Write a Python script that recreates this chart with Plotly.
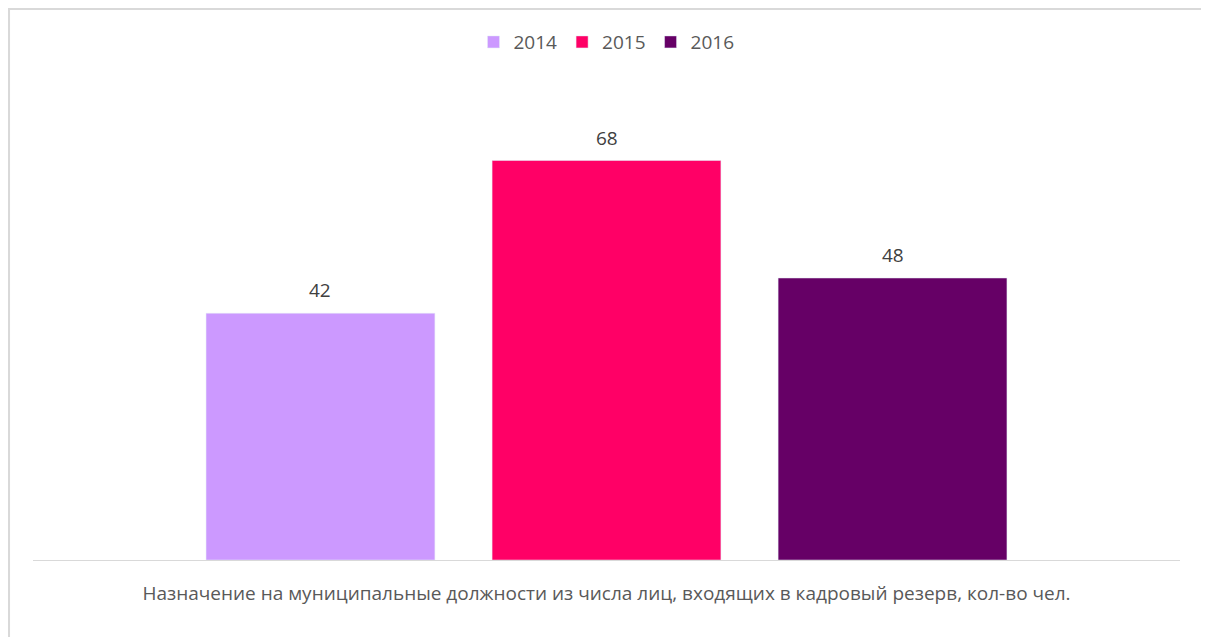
import plotly.graph_objects as go

category_label = "Назначение на муниципальные должности из числа лиц, входящих в кадровый резерв, кол-во чел."
years = ["2014", "2015", "2016"]
values = [42, 68, 48]
colors = ["#CC99FF", "#FF0066", "#660066"]

fig = go.Figure()
for i, (yr, v, c) in enumerate(zip(years, values, colors)):
    fig.add_trace(go.Bar(name=yr, x=[yr], y=[v], marker_color=c, cliponaxis=False))
    fig.add_annotation(x=i, y=v, xref="x", yref="y", text=str(v), showarrow=False,
                       yanchor="middle", yshift=23,
                       font=dict(size=19, color="#404040", family="Open Sans"))

fig.update_layout(
    width=1201, height=629,
    margin=dict(l=25, r=29, t=82, b=77),
    paper_bgcolor="white", plot_bgcolor="white",
    bargap=0.2,
    font=dict(family="Open Sans", size=19, color="#595959"),
    legend=dict(orientation="h", x=0.5, xanchor="center", y=1.102, yanchor="middle",
                font=dict(size=19, color="#595959"), itemwidth=30),
    showlegend=True,
    xaxis=dict(type="category", range=[-1.005, 3.005], showline=True, linecolor="#D9D9D9",
               linewidth=1, ticks="", showticklabels=False,
               title=dict(text=category_label, standoff=26,
                          font=dict(size=19, color="#595959"))),
    yaxis=dict(range=[0, 80], showticklabels=False, showgrid=False, zeroline=False),
    shapes=[dict(type="rect", xref="paper", yref="paper",
                 x0=-0.0209, x1=1.0218, y0=-0.2, y1=1.1723,
                 line=dict(color="#D9D9D9", width=2), layer="below")],
)

fig.write_html("out.html")
